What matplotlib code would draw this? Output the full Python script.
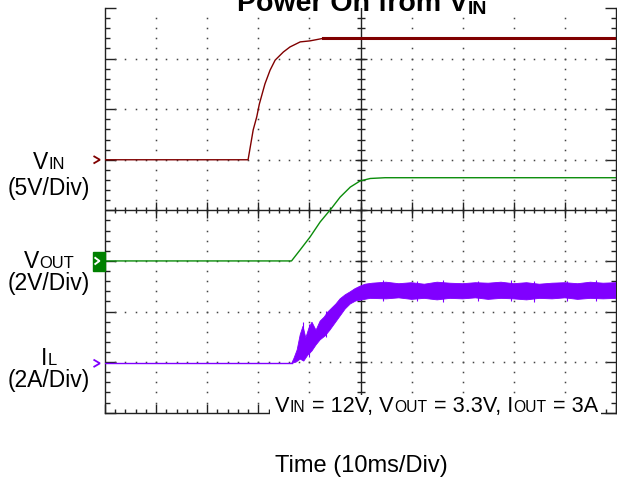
import numpy as np
import matplotlib
matplotlib.use("Agg")
import matplotlib.pyplot as plt
from matplotlib.patches import Rectangle

plt.rcParams['font.family'] = ['Liberation Sans', 'DejaVu Sans']

W, H = 617, 478

# scope traces, in divisions (x: 0..10, y: 0..8)
vin_x = [0, 2.80, 2.90, 2.97, 3.02, 3.13, 3.23, 3.33, 3.49, 3.62, 3.82, 4.01, 4.27, 10]
vin_y = [5.0, 5.0, 5.59, 5.85, 6.10, 6.50, 6.77, 6.97, 7.13, 7.23, 7.33, 7.35, 7.40, 7.40]

vout_x = [0, 3.65, 3.82, 4.01, 4.21, 4.44, 4.60, 4.80, 4.99, 5.19, 5.48, 10]
vout_y = [3.0, 3.0, 3.22, 3.47, 3.77, 4.05, 4.26, 4.46, 4.58, 4.63, 4.645, 4.645]

il_base = 0.976
# inductor current ripple band: upper and lower envelopes
il_up_x = [3.654, 3.70, 3.76, 3.82, 3.875, 3.93, 3.99, 4.05, 4.13, 4.21, 4.29, 4.36, 4.44,
           4.52, 4.60, 4.70, 4.80, 4.89, 4.99, 5.09, 5.23]
il_up_y = [0.976, 1.08, 1.24, 1.54, 1.71, 1.48, 1.67, 1.79, 1.63, 1.81, 1.89, 1.99, 2.07,
           2.15, 2.25, 2.33, 2.39, 2.45, 2.50, 2.54, 2.56]
il_lo_x = [3.654, 3.74, 3.82, 3.89, 3.97, 4.05, 4.13, 4.21, 4.31, 4.40, 4.50, 4.60, 4.70,
           4.80, 4.91, 5.03, 5.19]
il_lo_y = [0.976, 1.00, 1.06, 1.02, 1.14, 1.22, 1.34, 1.44, 1.52, 1.63, 1.77, 1.91, 2.05,
           2.15, 2.21, 2.23, 2.26]
il_flat_x = [5.5, 5.75, 6.0, 6.25, 6.5, 6.75, 7.0, 7.25, 7.5, 7.75, 8.0, 8.25, 8.5, 8.75,
             9.0, 9.25, 9.5, 9.75, 10.0]
il_flat_up = [2.58, 2.55, 2.57, 2.54, 2.58, 2.56, 2.55, 2.57, 2.56, 2.58, 2.55, 2.57, 2.54,
              2.56, 2.57, 2.55, 2.58, 2.56, 2.57]
il_flat_lo = [2.25, 2.27, 2.24, 2.26, 2.23, 2.26, 2.25, 2.27, 2.24, 2.26, 2.25, 2.23, 2.26,
              2.25, 2.27, 2.24, 2.26, 2.25, 2.26]
# a few ripple spikes sticking out of the band
spike_x = [3.88, 4.00, 4.33, 5.45, 6.10, 6.62, 7.30, 7.95, 8.40, 9.05, 9.60]
spike_top = [1.80, 1.76, 2.02, 2.62, 2.61, 2.62, 2.60, 2.62, 2.61, 2.60, 2.62]
spike_bot = [1.05, 1.10, 1.50, 2.20, 2.21, 2.19, 2.21, 2.20, 2.19, 2.21, 2.20]

c_vin = '#800000'
c_vout = '#0a8c0a'
c_il = '#8000ff'
c_axis = '#222222'

fig = plt.figure(figsize=(W / 100, H / 100), dpi=100)
ax = fig.add_axes([105 / W, 1 - 412.7 / H, 511 / W, 404.7 / H])
ax.set_xlim(0, 10)
ax.set_ylim(0, 8)
ax.patch.set_alpha(0)

for s in ['left', 'bottom', 'right']:
    ax.spines[s].set_color(c_axis)
    ax.spines[s].set_linewidth(1.0)
ax.spines['top'].set_visible(False)
ax.set_xticks(range(0, 11))
ax.set_xticks(np.arange(0, 10.01, 0.2), minor=True)
ax.set_yticks(range(0, 9))
ax.set_yticks(np.arange(0, 8.01, 0.2), minor=True)
ax.tick_params(which='both', direction='in', colors=c_axis, width=1.0,
               labelleft=False, labelbottom=False, right=True, top=False)
ax.tick_params(axis='y', which='major', length=8)
ax.tick_params(axis='y', which='minor', length=3.6)
ax.tick_params(axis='x', which='major', length=6.5)
ax.tick_params(axis='x', which='minor', length=3)

# dotted graticule
fine_x = np.arange(0.2, 10, 0.2)
fine_y = np.arange(0.2, 8, 0.2)
for gx in [1, 2, 3, 4, 6, 7, 8, 9]:
    ax.plot([gx] * len(fine_y), fine_y, ls='none', marker='s', ms=1.1, mew=0, color='#444444')
for gy in [1, 2, 3, 5, 6, 7]:
    ax.plot(fine_x, [gy] * len(fine_x), ls='none', marker='s', ms=1.1, mew=0, color='#444444')

# centre crosshair with ticks
ax.plot([0, 10], [4, 4], color=c_axis, lw=1.0)
ax.plot([5, 5], [0, 8], color=c_axis, lw=1.0)
ax.plot(fine_x, [4] * len(fine_x), ls='none', marker='|', ms=5, mew=1.0, color=c_axis)
ax.plot(range(1, 10), [4] * 9, ls='none', marker='|', ms=11, mew=1.0, color=c_axis)
ax.plot([5] * len(fine_y), fine_y, ls='none', marker='_', ms=5.8, mew=1.0, color=c_axis)
ax.plot([5] * 7, range(1, 8), ls='none', marker='_', ms=8.6, mew=1.0, color=c_axis)

# traces
ax.plot(vin_x, vin_y, color=c_vin, lw=1.0, zorder=5)
ax.plot(vin_x[-2:], vin_y[-2:], color=c_vin, lw=2.2, zorder=5)
ax.plot(vout_x, vout_y, color=c_vout, lw=1.0, zorder=5)
ax.plot([0, il_up_x[0]], [il_base, il_base], color=c_il, lw=1.0, zorder=5)
poly_x = il_up_x + il_flat_x + il_flat_x[::-1] + il_lo_x[::-1]
poly_y = il_up_y + il_flat_up + il_flat_lo[::-1] + il_lo_y[::-1]
ax.fill(poly_x, poly_y, color=c_il, lw=0.6, zorder=5)
ax.vlines(spike_x, spike_bot, spike_top, color=c_il, lw=0.8, zorder=5)

# channel markers
def chevron(y, color, lw=1.3):
    ax.plot([-0.21, -0.10, -0.21], [y + 0.065, y, y - 0.065], color=color, lw=lw,
            clip_on=False, solid_joinstyle='miter')

chevron(5.0, c_vin)
chevron(il_base, c_il)
ax.add_patch(Rectangle((-0.23, 2.80), 0.23, 0.38, color='#008000', clip_on=False, zorder=6))
ax.plot([-0.19, -0.11, -0.19], [3.06, 3.0, 2.94], color='white', lw=1.4, clip_on=False, zorder=7)

renderer = fig.canvas.get_renderer()

def put(parts, x, y, ha='center', weight='normal'):
    # parts: (text, size, baseline shift in px); x, y in pixels from top-left
    arts, widths = [], []
    for s, size, dy in parts:
        t = fig.text(0, 1 - (y + dy) / H, s, fontsize=size, va='baseline', ha='left',
                     fontweight=weight, zorder=5)
        widths.append(t.get_window_extent(renderer).width)
        arts.append(t)
    x0 = x - sum(widths) / 2 if ha == 'center' else x
    for t, w in zip(arts, widths):
        t.set_x(x0 / W)
        x0 += w + 0.5

fs = 16.5
sub = fs * 0.72
put([('V', fs, 0), ('IN', sub, 0)], 48.5, 169)
put([('(5V/Div)', fs, 0)], 48.5, 195)
put([('V', fs, 0), ('OUT', sub, 0)], 48.5, 268)
put([('(2V/Div)', fs, 0)], 48.5, 290)
put([('I', fs, 0), ('L', sub, 0)], 48.5, 365)
put([('(2A/Div)', fs, 0)], 48.5, 387)

# white box behind the test conditions
fig.patches.append(Rectangle((270 / W, 1 - 420 / H), 331 / W, 25 / H, transform=fig.transFigure,
                             facecolor='white', edgecolor='none', zorder=1))
fa = 15.6
sa = fa * 0.72
put([('V', fa, 0), ('IN', sa, 0), (' = 12V, V', fa, 0), ('OUT', sa, 0),
     (' = 3.3V, I', fa, 0), ('OUT', sa, 0), (' = 3A', fa, 0)], 275, 411.7, ha='left')

put([('Time (10ms/Div)', 17, 0)], 361.5, 471.7)
put([('Power On from V', 20.5, 0), ('IN', 14, 3.5)], 236.7, 11, ha='left', weight='bold')

fig.savefig('out.png', dpi=100)
